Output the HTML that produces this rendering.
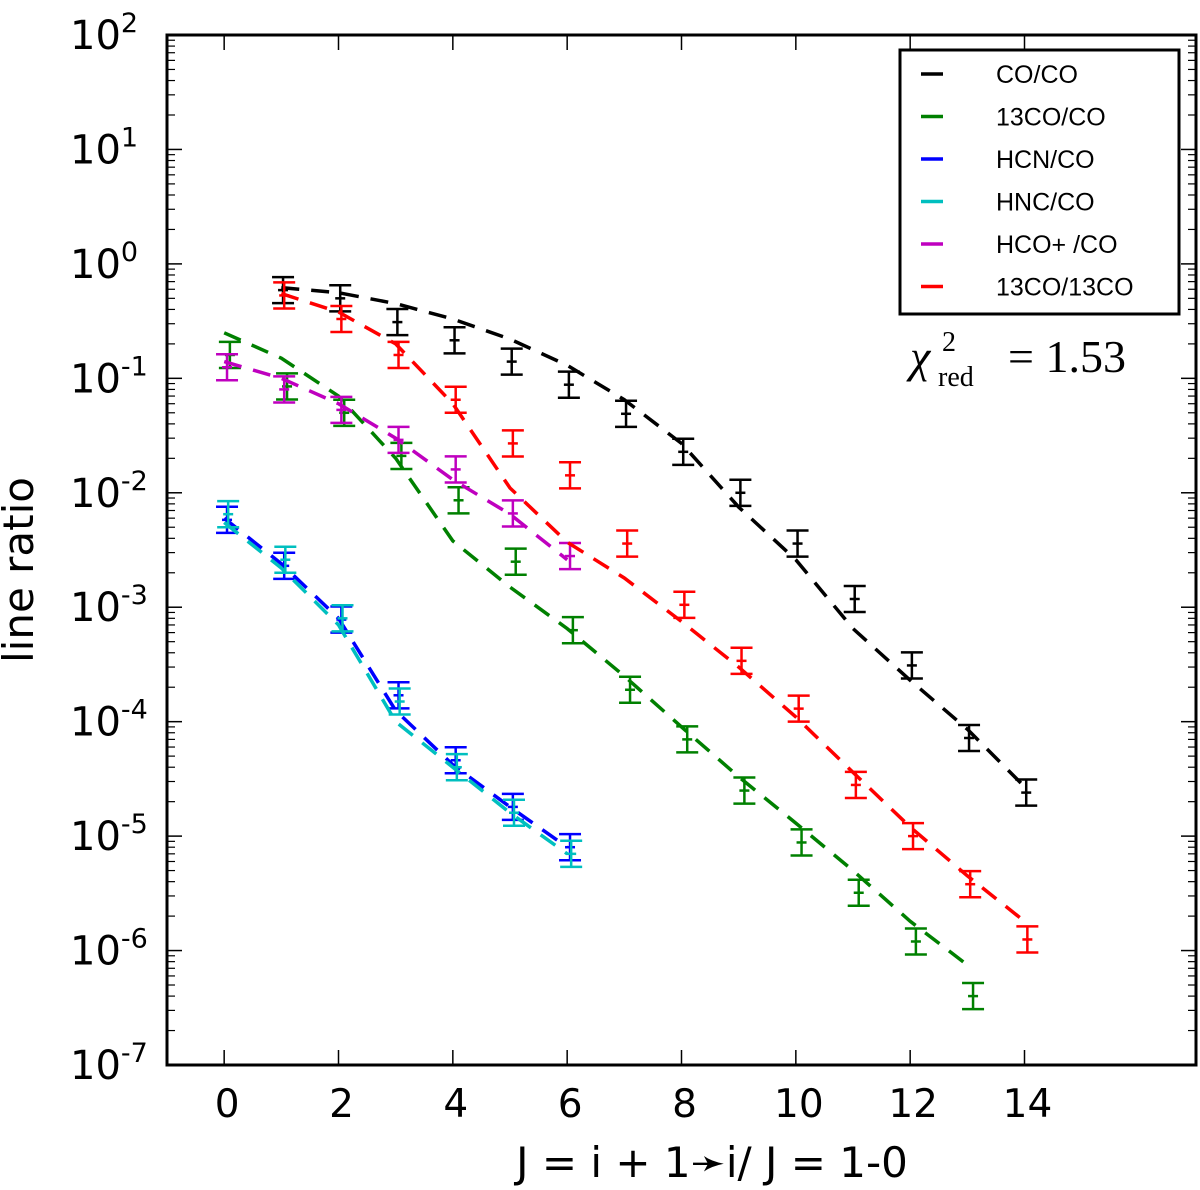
<!DOCTYPE html>
<html><head><meta charset="utf-8"><style>
html,body{margin:0;padding:0;background:#fff;}
svg{display:block;font-family:"DejaVu Sans","Liberation Sans",sans-serif;}
</style></head><body>
<svg id="chart" width="1200" height="1190" viewBox="0 0 1200 1190" xmlns="http://www.w3.org/2000/svg">
<g id="marks"></g>
<g id="axes"></g>
<g id="legend">
<rect x="900" y="50" width="279" height="264" fill="#fff" stroke="#000" stroke-width="3"/>
</g>
<g font-family="'Liberation Serif',serif">
<text x="910" y="372" font-size="46" font-style="italic">χ</text>
<text x="942" y="351" font-size="28">2</text>
<text x="938" y="386" font-size="28">red</text>
<text x="1008" y="372" font-size="46">= 1.53</text>
</g>
<text x="33" y="570" font-size="42" text-anchor="middle" transform="rotate(-90 33 570)">line ratio</text>
<text x="712" y="1177" font-size="42" text-anchor="middle">J = i + 1➛i/ J = 1-0</text>
</svg>
<script>
const xTicks=[0,2,4,6,8,10,12,14];
const yDecades=[2,1,0,-1,-2,-3,-4,-5,-6,-7];
const seriesNames=["CO/CO","13CO/CO","HCN/CO","HNC/CO","HCO+ /CO","13CO/13CO"];
const seriesColors=["#000","#008000","#0000ff","#00bfbf","#bf00bf","#ff0000"];
const coX=[1,2,3,4,5,6,7,8,9,10,11,12,13,14];
const coObs=[0.59,0.50,0.31,0.215,0.14,0.088,0.049,0.0228,0.010,0.0036,0.00118,0.00031,0.000072,0.000024];
const coModel=[0.62,0.56,0.45,0.33,0.22,0.13,0.065,0.027,0.0075,0.0026,0.00065,0.00023,0.000086,0.000027];
const c13X=[0,1,2,3,4,5,6,7,8,9,10,11,12,13];
const c13Obs=[0.16,0.085,0.05,0.021,0.0086,0.0025,0.00063,0.00019,0.00007,0.000025,0.0000088,0.0000032,0.0000012,0.0000004];
const c13Model=[0.25,0.15,0.07,0.02,0.0038,0.0015,0.00065,0.00025,0.00009,0.000033,0.000013,0.000005,0.0000018,0.00000075];
const hcnX=[0,1,2,3,4,5,6];
const hcnObs=[0.0058,0.0023,0.00078,0.00017,0.000046,0.000018,0.000008];
const hcnModel=[0.006,0.0024,0.0008,0.000125,0.000042,0.000018,0.000008];
const hncObs=[0.0065,0.0026,0.0008,0.00015,0.00004,0.000016,0.000007];
const hncModel=[0.0055,0.0022,0.0007,0.0001,0.00004,0.000016,0.000007];
const hcopX=[0,1,2,3,4,5,6];
const hcopObs=[0.125,0.08,0.053,0.029,0.016,0.0066,0.0028];
const hcopModel=[0.14,0.1,0.06,0.03,0.013,0.0065,0.0026];
const r13X=[1,2,3,4,5,6,7,8,9,10,11,12,13,14];
const r13Obs=[0.53,0.33,0.16,0.065,0.027,0.0142,0.0036,0.00105,0.00034,0.00013,0.000028,0.00001,0.0000038,0.00000125];
const r13Model=[0.55,0.38,0.2,0.06,0.011,0.0037,0.0018,0.00075,0.0003,0.00011,0.000036,0.000012,0.0000045,0.0000018];
const errFrac=0.3;

const L=167,R=1196,T=35,B=1065,xmin=-1,xmax=17;
const sx=x=>L+(x-xmin)/(xmax-xmin)*(R-L);
const sy=v=>T+(2-Math.log10(v))/9*(B-T);
const NS="http://www.w3.org/2000/svg";
function mk(parent,tag,attrs){const e=document.createElementNS(NS,tag);for(const k in attrs)e.setAttribute(k,attrs[k]);parent.appendChild(e);return e;}
const marks=document.getElementById('marks'),axes=document.getElementById('axes'),legend=document.getElementById('legend');

const series=[
 {x:coX,obs:coObs,model:coModel,c:0,dx:0.03,key:"co-co"},
 {x:c13X,obs:c13Obs,model:c13Model,c:1,dx:0.1,key:"13co-co"},
 {x:hcnX,obs:hcnObs,model:hcnModel,c:2,dx:0.05,key:"hcn-co"},
 {x:hcnX,obs:hncObs,model:hncModel,c:3,dx:0.07,key:"hnc-co"},
 {x:hcopX,obs:hcopObs,model:hcopModel,c:4,dx:0.05,key:"hcop-co"},
 {x:r13X,obs:r13Obs,model:r13Model,c:5,dx:0.05,key:"13co-13co"}
];
series.forEach(s=>{
  const col=seriesColors[s.c];
  const pts=s.x.map((x,i)=>sx(x).toFixed(1)+","+sy(s.model[i]).toFixed(1)).join(" ");
  const pl=mk(marks,'polyline',{points:pts,fill:'none',stroke:col,'stroke-width':3.5,'stroke-dasharray':'18,12'});
  
  
  s.x.forEach((x,i)=>{
    const g=mk(marks,'g',{stroke:col,'stroke-width':2.5});
    
    
    const px=sx(x+s.dx),v=s.obs[i],y1=sy(v*(1+errFrac)),y2=sy(v/(1+errFrac)),yc=sy(v);
    mk(g,'line',{x1:px,x2:px,y1:y1,y2:y2});
    mk(g,'line',{x1:px-11,x2:px+11,y1:y1,y2:y1});
    mk(g,'line',{x1:px-11,x2:px+11,y1:y2,y2:y2});
    mk(g,'line',{x1:px-5,x2:px+5,y1:yc,y2:yc});
  });
});

const fr=mk(axes,'rect',{x:L,y:T,width:R-L,height:B-T,fill:'none',stroke:'#000','stroke-width':3});


xTicks.forEach(t=>{
  const px=sx(t);
  mk(axes,'line',{x1:px,x2:px,y1:B,y2:B-15,stroke:'#000','stroke-width':1.5});
  mk(axes,'line',{x1:px,x2:px,y1:T,y2:T+15,stroke:'#000','stroke-width':1.5});
  const tx=mk(axes,'text',{x:px+3,y:B+52,'font-size':39,'text-anchor':'middle'});
  tx.textContent=t;
  
  
});
yDecades.forEach(d=>{
  const py=sy(Math.pow(10,d));
  mk(axes,'line',{x1:L,x2:L+15,y1:py,y2:py,stroke:'#000','stroke-width':1.5});
  mk(axes,'line',{x1:R,x2:R-15,y1:py,y2:py,stroke:'#000','stroke-width':1.5});
  if(d>-7){for(let m=2;m<10;m++){const my=sy(m*Math.pow(10,d-1));
    mk(axes,'line',{x1:L,x2:L+8,y1:my,y2:my,stroke:'#000','stroke-width':1.2});
    mk(axes,'line',{x1:R,x2:R-8,y1:my,y2:my,stroke:'#000','stroke-width':1.2});}}
  const tx=mk(axes,'text',{x:70,y:py+14,'font-size':40,'text-anchor':'start'});
  
  
  const a=document.createElementNS(NS,'tspan');a.textContent='10';tx.appendChild(a);
  const b=document.createElementNS(NS,'tspan');b.setAttribute('font-size','27');b.setAttribute('dy','-17');b.textContent=(d<0?'-':'')+Math.abs(d);tx.appendChild(b);
});
seriesNames.forEach((n,i)=>{
  const y=74+i*42.5;
  const ln=mk(legend,'line',{x1:921,x2:943,y1:y,y2:y,stroke:seriesColors[i],'stroke-width':3.5});
  
  
  const t=mk(legend,'text',{x:996,y:y+9,'font-size':25,'font-family':"'Liberation Sans',sans-serif"});
  t.textContent=n;
  
  
});
</script>
</body></html>
